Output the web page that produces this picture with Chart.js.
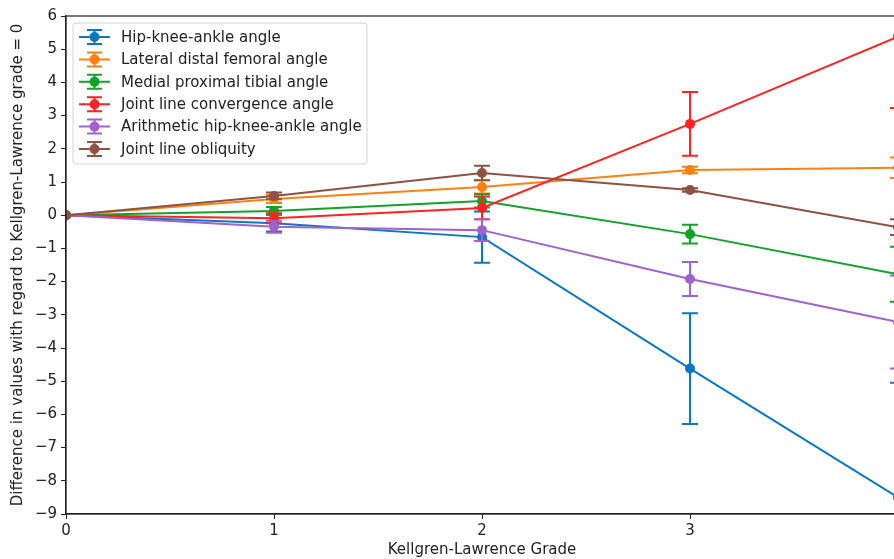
<!DOCTYPE html>
<html>
<head>
<meta charset="utf-8">
<script src="https://cdn.jsdelivr.net/npm/chart.js@4"></script>
<style>
  html, body { margin: 0; padding: 0; background: #fff; overflow: hidden; }
  #wrap { width: 920px; height: 559px; }
</style>
</head>
<body>
<div id="wrap"><canvas id="line-chart" width="920" height="559"></canvas></div>
<script>
// grades on the x axis
let grades = [0, 1, 2, 3, 4];

// series names
let seriesNames = [
  'Hip-knee-ankle angle',
  'Lateral distal femoral angle',
  'Medial proximal tibial angle',
  'Joint line convergence angle',
  'Arithmetic hip-knee-ankle angle',
  'Joint line obliquity'
];

// mean differences vs grade 0
let hka  = [0, -0.24, -0.66, -4.62, -8.5];
let ldfa = [0, 0.49, 0.85, 1.36, 1.43];
let mpta = [0, 0.13, 0.43, -0.57, -1.78];
let jlca = [0, -0.09, 0.22, 2.75, 5.38];
let ahka = [0, -0.35, -0.45, -1.92, -3.22];
let jlo  = [0, 0.58, 1.27, 0.76, -0.36];

// error bar half widths
let hkaErr  = [0, 0.25, 0.77, 1.67, 3.45];
let ldfaErr = [0, 0.12, 0.2, 0.1, 0.31];
let mptaErr = [0, 0.12, 0.2, 0.28, 0.83];
let jlcaErr = [0, 0.15, 0.34, 0.96, 2.15];
let ahkaErr = [0, 0.18, 0.33, 0.51, 1.4];
let jloErr  = [0, 0.1, 0.22, 0.05, 0.24];

// y tick labels
let yTicks = [-9, -8, -7, -6, -5, -4, -3, -2, -1, 0, 1, 2, 3, 4, 5, 6];

let colors = ['#0b77c2', '#ff8010', '#12a22a', '#ff2222', '#a062cc', '#8e5244'];
let values = [hka, ldfa, mpta, jlca, ahka, jlo];
let errors = [hkaErr, ldfaErr, mptaErr, jlcaErr, ahkaErr, jloErr];

let FONT = 'DejaVu Sans';

let datasets = [];
values.forEach(function(v, i){
  datasets.push({
    label: seriesNames[i],
    data: grades.map(function(g, j){ return {x: g, y: v[j]}; }),
    errors: errors[i],
    borderColor: colors[i],
    backgroundColor: colors[i],
    borderWidth: 2,
    pointRadius: 5,
    pointHoverRadius: 5,
    pointBorderWidth: 0,
    tension: 0,
    order: 10 - i
  });
});

// error bars, drawn right after each line so later series sit on top
let errorBars = {
  id: 'errorBars',
  afterDatasetDraw: function(chart, args){
    let ds = chart.data.datasets[args.index];
    let xs = chart.scales.x, ys = chart.scales.y, area = chart.chartArea;
    let ctx = chart.ctx;
    ctx.save();
    ctx.beginPath();
    ctx.rect(area.left, area.top, area.right - area.left + 30, area.bottom - area.top);
    ctx.clip();
    ctx.strokeStyle = ds.borderColor;
    ctx.lineWidth = 2;
    ds.data.forEach(function(p, j){
      let e = ds.errors[j];
      if (!e) return;
      let px = xs.getPixelForValue(p.x);
      let top = ys.getPixelForValue(p.y + e);
      let bot = ys.getPixelForValue(p.y - e);
      ctx.beginPath();
      ctx.moveTo(px, top); ctx.lineTo(px, bot);
      ctx.moveTo(px - 8, top); ctx.lineTo(px + 8, top);
      ctx.moveTo(px - 8, bot); ctx.lineTo(px + 8, bot);
      ctx.stroke();
    });
    ctx.restore();
  }
};

// matplotlib style frame and legend
let frameLegend = {
  id: 'frameLegend',
  afterDraw: function(chart){
    let ctx = chart.ctx, a = chart.chartArea;
    ctx.save();
    ctx.strokeStyle = '#222';
    ctx.lineWidth = 1.2;
    ctx.strokeRect(a.left, a.top, a.right - a.left, a.bottom - a.top);

    let bx = 73, by = 23, bw = 294, bh = 141;
    ctx.fillStyle = 'rgba(255,255,255,0.85)';
    ctx.strokeStyle = '#d4d4d4';
    ctx.lineWidth = 1;
    ctx.beginPath();
    ctx.roundRect(bx, by, bw, bh, 3);
    ctx.fill();
    ctx.stroke();

    ctx.font = '15px "' + FONT + '"';
    ctx.textBaseline = 'middle';
    chart.data.datasets.forEach(function(ds, i){
      let y = 37 + i * 22.4;
      ctx.strokeStyle = ds.borderColor;
      ctx.fillStyle = ds.borderColor;
      ctx.lineWidth = 2;
      ctx.beginPath();
      ctx.moveTo(79, y); ctx.lineTo(110, y);
      ctx.moveTo(94.5, y - 7); ctx.lineTo(94.5, y + 7);
      ctx.moveTo(87, y - 7); ctx.lineTo(102, y - 7);
      ctx.moveTo(87, y + 7); ctx.lineTo(102, y + 7);
      ctx.stroke();
      ctx.beginPath();
      ctx.arc(94.5, y, 5, 0, Math.PI * 2);
      ctx.fill();
      ctx.fillStyle = '#222';
      ctx.fillText(ds.label, 121, y + 1);
    });
    ctx.restore();
  }
};

function minus(v){ return String(v).replace('-', '\u2212'); }

new Chart(document.getElementById('line-chart'), {
  type: 'line',
  data: { datasets: datasets },
  plugins: [errorBars, frameLegend],
  options: {
    responsive: false,
    animation: false,
    events: [],
    layout: { padding: { left: 0, top: 16, right: 22, bottom: 0 } },
    plugins: { legend: { display: false }, tooltip: { enabled: false } },
    scales: {
      x: {
        type: 'linear',
        min: 0,
        max: 4,
        afterFit: function(s){ s.height = 45; },
        ticks: { stepSize: 1, color: '#222', padding: 3, font: { family: FONT, size: 15 }, callback: minus },
        grid: { drawOnChartArea: false, tickLength: 5, color: '#222' },
        border: { color: '#222', width: 1.2 },
        title: { display: true, text: 'Kellgren-Lawrence Grade', color: '#222', padding: { top: 0, bottom: 0 }, font: { family: FONT, size: 15 } }
      },
      y: {
        min: yTicks[0],
        max: yTicks[yTicks.length - 1],
        afterFit: function(s){ s.width = 66; },
        afterBuildTicks: function(s){ s.ticks = yTicks.map(function(v){ return {value: v}; }); },
        ticks: { color: '#222', padding: 4, font: { family: FONT, size: 15 }, callback: minus },
        grid: { drawOnChartArea: false, tickLength: 5, color: '#222' },
        border: { color: '#222', width: 1.2 },
        title: { display: true, text: 'Difference in values with regard to Kellgren-Lawrence grade = 0', color: '#222', padding: { top: 9, bottom: 0 }, font: { family: FONT, size: 15 } }
      }
    }
  }
});
</script>
</body>
</html>
